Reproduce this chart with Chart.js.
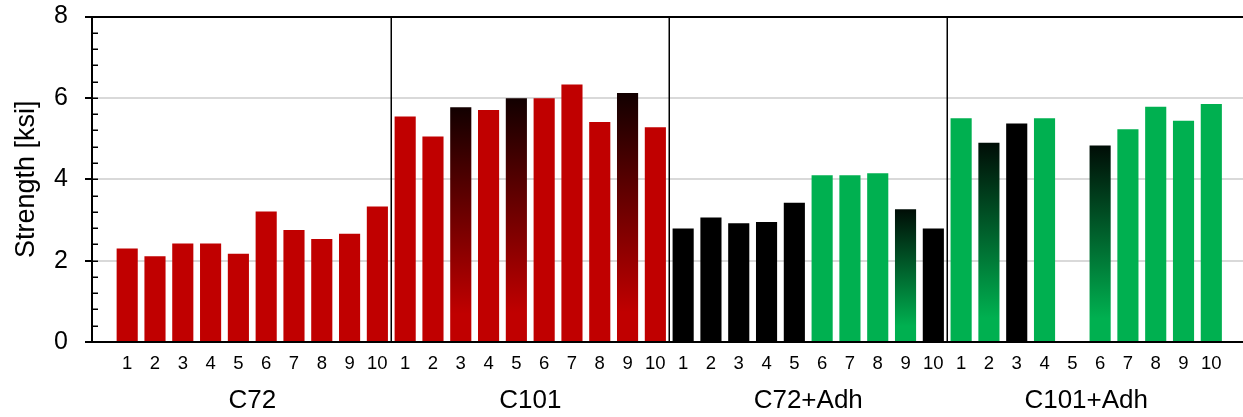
<!DOCTYPE html>
<html>
<head>
<meta charset="utf-8">
<script src="https://cdn.jsdelivr.net/npm/chart.js@4.4.1/dist/chart.umd.min.js"></script>
<style>
  html, body { margin: 0; padding: 0; background: #fff; }
  #wrap { width: 1243px; height: 417px; }
</style>
</head>
<body>
<div id="wrap"><canvas id="chart" width="1243" height="417"></canvas></div>
<script>
// Specimen groups and per-specimen strengths (ksi)
const groups = ['C72', 'C101', 'C72+Adh', 'C101+Adh'];
const specimens = ['1', '2', '3', '4', '5', '6', '7', '8', '9', '10'];
const c72     = [2.30, 2.11, 2.42, 2.42, 2.17, 3.21, 2.75, 2.53, 2.66, 3.33];
const c101    = [5.54, 5.05, 5.77, 5.70, 5.99, 5.99, 6.33, 5.41, 6.12, 5.28];
const c72Adh  = [2.79, 3.06, 2.92, 2.95, 3.42, 4.10, 4.10, 4.15, 3.26, 2.79];
const c101Adh = [5.50, 4.90, 5.37, 5.50, null, 4.83, 5.23, 5.78, 5.44, 5.85];
const yTicks  = [0, 2, 4, 6, 8];

// Fill style of each bar: plain colour or a colour fading to black at the top
const palette = { red: '#c00000', green: '#00b050', black: '#000000' };
const fadeTop = { red: '#120000', green: '#000d06' };
const groupFills = [
  ['red', 'red', 'red', 'red', 'red', 'red', 'red', 'red', 'red', 'red'],
  ['red', 'red', 'red*', 'red', 'red*', 'red', 'red', 'red', 'red*', 'red'],
  ['black', 'black', 'black', 'black', 'black', 'green', 'green', 'green', 'green*', 'black'],
  ['green', 'green*', 'black', 'green', 'green', 'green*', 'green', 'green', 'green', 'green']
];

const FONT = "'Liberation Sans', Arial, Helvetica, sans-serif";
const groupValues = [c72, c101, c72Adh, c101Adh];
const perGroup = specimens.length;

const points = [];
const fills = [];
const tickLabels = [];
groupValues.forEach((vals, g) => {
  vals.forEach((v, i) => {
    points.push({ x: g * perGroup + i + 0.5, y: v });
    fills.push(groupFills[g][i]);
    tickLabels.push(specimens[i]);
  });
});

function barFill(ctx) {
  const code = fills[ctx.dataIndex] || 'red';
  const fade = code.endsWith('*');
  const name = code.replace('*', '');
  const base = palette[name];
  if (!fade) return base;
  const chart = ctx.chart;
  const ys = chart.scales.y;
  const p = ctx.parsed;
  if (!ys || !p || p.y == null) return base;
  const top = ys.getPixelForValue(p.y);
  const bottom = ys.getPixelForValue(0);
  if (!isFinite(top) || !isFinite(bottom) || top === bottom) return base;
  const grad = chart.ctx.createLinearGradient(0, top, 0, bottom);
  grad.addColorStop(0, fadeTop[name]);
  grad.addColorStop(0.88, base);
  grad.addColorStop(1, base);
  return grad;
}

// Group dividers and the inward minor ticks of the value axis
const framePlugin = {
  id: 'frame',
  afterDatasetsDraw(chart) {
    const { ctx, chartArea: a, scales: { x, y } } = chart;
    ctx.save();
    ctx.strokeStyle = '#000';
    ctx.lineWidth = 1.5;
    for (let g = 1; g < groups.length; g++) {
      const px = Math.round(x.getPixelForValue(g * perGroup)) + 0.25;
      ctx.beginPath();
      ctx.moveTo(px, a.top);
      ctx.lineTo(px, a.bottom);
      ctx.stroke();
    }
    const steps = 20;
    for (let i = 1; i < steps; i++) {
      const v = (yTicks[yTicks.length - 1] - yTicks[0]) * i / steps + yTicks[0];
      const py = Math.round(y.getPixelForValue(v)) + 0.25;
      ctx.beginPath();
      ctx.moveTo(a.left, py);
      ctx.lineTo(a.left + 6, py);
      ctx.stroke();
    }
    ctx.restore();
  }
};

const xMin = -0.766;
const xMax = 40.64;

new Chart(document.getElementById('chart'), {
  type: 'bar',
  data: {
    datasets: [{
      data: points,
      backgroundColor: barFill,
      borderWidth: 0,
      barPercentage: 0.76,
      categoryPercentage: 1.0
    }]
  },
  options: {
    responsive: false,
    animation: false,
    events: [],
    layout: { padding: 0 },
    plugins: { legend: { display: false }, tooltip: { enabled: false } },
    scales: {
      x: {
        type: 'linear',
        position: 'bottom',
        offset: false,
        weight: 0,
        min: xMin,
        max: xMax,
        afterBuildTicks(s) { s.ticks = points.map(p => ({ value: p.x })); },
        afterFit(s) { s.height = 36; s.paddingLeft = 0; s.paddingRight = 0; },
        ticks: {
          autoSkip: false,
          maxRotation: 0,
          padding: 11,
          color: '#000',
          font: { family: FONT, size: 18.5 },
          callback: (v, i) => tickLabels[i]
        },
        grid: { display: false, drawTicks: false },
        border: { display: true, color: '#000', width: 2 }
      },
      groups: {
        type: 'linear',
        position: 'bottom',
        offset: false,
        weight: 1,
        min: xMin,
        max: xMax,
        afterBuildTicks(s) { s.ticks = groups.map((g, i) => ({ value: i * perGroup + perGroup / 2 })); },
        afterFit(s) { s.height = 39; s.paddingLeft = 0; s.paddingRight = 0; },
        ticks: {
          autoSkip: false,
          maxRotation: 0,
          padding: 7,
          color: '#000',
          font: { family: FONT, size: 26 },
          callback: (v, i) => groups[i]
        },
        grid: { display: false, drawTicks: false },
        border: { display: false }
      },
      y: {
        min: yTicks[0],
        max: yTicks[yTicks.length - 1],
        afterBuildTicks(s) { s.ticks = yTicks.map(v => ({ value: v })); },
        afterFit(s) { s.width = 92; s.paddingTop = 16.5; s.paddingBottom = 0; },
        ticks: {
          padding: 17,
          color: '#000',
          font: { family: FONT, size: 25 }
        },
        grid: {
          color: c => (c.tick && (c.tick.value === yTicks[0] || c.tick.value === yTicks[yTicks.length - 1])) ? '#000' : '#d9d9d9',
          lineWidth: 2,
          tickColor: '#000',
          tickLength: 7
        },
        border: { display: true, color: '#000', width: 2 },
        title: {
          display: true,
          text: 'Strength [ksi]',
          color: '#000',
          font: { family: FONT, size: 27, lineHeight: 1 },
          padding: { top: 13, bottom: 0 }
        }
      }
    }
  },
  plugins: [framePlugin]
});
</script>
</body>
</html>
